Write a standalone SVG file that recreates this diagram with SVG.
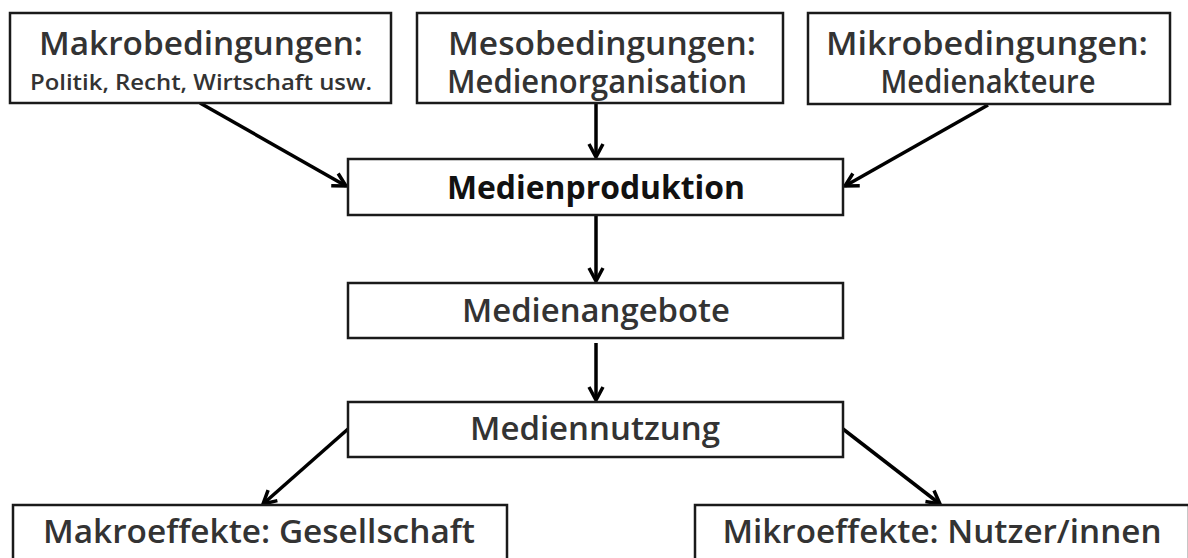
<svg xmlns="http://www.w3.org/2000/svg" width="1188" height="558" viewBox="0 0 1188 558">
<defs>
<marker id="arr" viewBox="0 0 20 20" refX="17" refY="10" markerWidth="20" markerHeight="20" markerUnits="userSpaceOnUse" orient="auto" overflow="visible">
<path d="M4,3 L17,10 L4,17" fill="none" stroke="#000" stroke-width="3.5" stroke-linejoin="miter"/>
</marker>
<style>
.n rect{fill:#fff;stroke:#1a1a1a;stroke-width:2.5}
text{font-family:"Open Sans","DejaVu Sans",sans-serif;font-weight:600;fill:#333;text-anchor:middle}
.t{font-size:33px}
.s{font-size:22px}
.b{font-weight:700;fill:#111}
.c line{stroke:#000;stroke-width:3.5;marker-end:url(#arr)}
</style>
</defs>
<rect x="0" y="0" width="1188" height="558" fill="#fff"/>
<g class="c" id="connectors">
<line x1="200" y1="103" x2="346" y2="186"/>
<line x1="596" y1="103" x2="596" y2="157"/>
<line x1="988" y1="105" x2="845" y2="186"/>
<line x1="596" y1="215" x2="596" y2="281"/>
<line x1="596" y1="343" x2="596" y2="400"/>
<line x1="348" y1="429" x2="263" y2="504"/>
<line x1="843" y1="429" x2="940" y2="504"/>
</g>
<g id="makro" class="n"><rect x="10" y="13" width="381" height="90"/>
<text class="t" x="201" y="55" textLength="324" lengthAdjust="spacingAndGlyphs">Makrobedingungen:</text>
<text class="s" x="201" y="90" textLength="342" lengthAdjust="spacingAndGlyphs">Politik, Recht, Wirtschaft usw.</text></g>
<g id="meso" class="n"><rect x="417" y="13" width="366" height="90"/>
<text class="t" x="602" y="55" textLength="308" lengthAdjust="spacingAndGlyphs">Mesobedingungen:</text>
<text class="t" x="597" y="93" textLength="300" lengthAdjust="spacingAndGlyphs">Medienorganisation</text></g>
<g id="mikro" class="n"><rect x="808" y="13" width="362" height="91"/>
<text class="t" x="987" y="55" textLength="322" lengthAdjust="spacingAndGlyphs">Mikrobedingungen:</text>
<text class="t" x="988" y="93" textLength="215" lengthAdjust="spacingAndGlyphs">Medienakteure</text></g>
<g id="produktion" class="n"><rect x="348" y="159" width="495" height="56"/>
<text class="t b" x="596" y="199" textLength="298" lengthAdjust="spacingAndGlyphs">Medienproduktion</text></g>
<g id="angebote" class="n"><rect x="348" y="283" width="495" height="55"/>
<text class="t" x="596" y="322" textLength="268" lengthAdjust="spacingAndGlyphs">Medienangebote</text></g>
<g id="nutzung" class="n"><rect x="348" y="402" width="495" height="55"/>
<text class="t" x="595" y="440" textLength="250" lengthAdjust="spacingAndGlyphs">Mediennutzung</text></g>
<g id="makroeffekte" class="n"><rect x="13" y="505" width="494" height="70"/>
<text class="t" x="259" y="543" textLength="432" lengthAdjust="spacingAndGlyphs">Makroeffekte: Gesellschaft</text></g>
<g id="mikroeffekte" class="n"><rect x="695" y="505" width="494" height="70"/>
<text class="t" x="942" y="543" textLength="439" lengthAdjust="spacingAndGlyphs">Mikroeffekte: Nutzer/innen</text></g>
</svg>
